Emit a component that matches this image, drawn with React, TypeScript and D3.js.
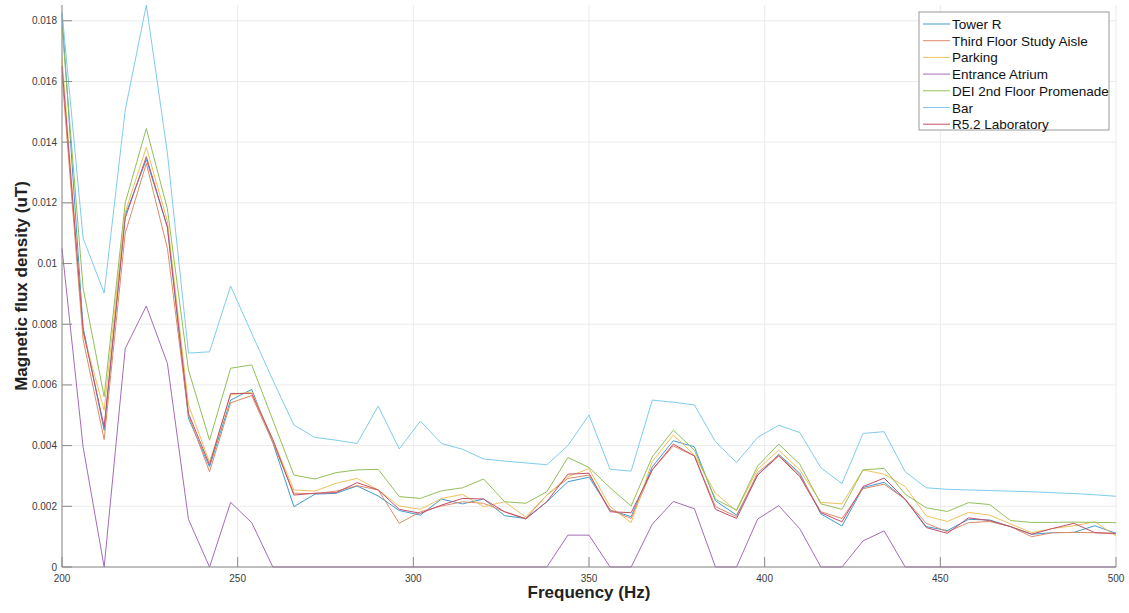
import React from "react";
import * as d3 from "d3";

const frequencies = [
  200, 206, 212, 218, 224, 230, 236, 242, 248, 254, 260, 266, 272, 278, 284, 290, 296,
  302, 308, 314, 320, 326, 332, 338, 344, 350, 356, 362, 368, 374, 380, 386, 392, 398,
  404, 410, 416, 422, 428, 434, 440, 446, 452, 458, 464, 470, 476, 482, 488, 494, 500,
];

const towerR = [
  0.0182, 0.0079, 0.0045, 0.0116, 0.01343, 0.0112, 0.0049, 0.0033, 0.0055, 0.00585,
  0.0041, 0.00199, 0.0024, 0.00243, 0.00267, 0.00234, 0.00186, 0.00171, 0.00224, 0.00208,
  0.00224, 0.00169, 0.0016, 0.00215, 0.00281, 0.00296, 0.00188, 0.00166, 0.0033, 0.00416,
  0.00396, 0.00218, 0.00171, 0.00303, 0.00371, 0.00309, 0.00175, 0.00135, 0.00262, 0.00279,
  0.00223, 0.00133, 0.0012, 0.00157, 0.00155, 0.00133, 0.00108, 0.00113, 0.00114, 0.00136,
  0.00111,
];

const thirdFloor = [
  0.0162, 0.0075, 0.0042, 0.011, 0.0133, 0.0105, 0.005, 0.00314, 0.00541, 0.00565,
  0.0041, 0.00243, 0.00242, 0.0025, 0.00268, 0.00254, 0.00144, 0.00182, 0.00201, 0.00215,
  0.0021, 0.00182, 0.0016, 0.00237, 0.00292, 0.00303, 0.00188, 0.0016, 0.0032, 0.00399,
  0.00366, 0.00199, 0.00166, 0.00311, 0.00368, 0.00303, 0.00182, 0.0016, 0.00258, 0.00273,
  0.00223, 0.00144, 0.00116, 0.00146, 0.0015, 0.00133, 0.001, 0.00113, 0.00114, 0.00113,
  0.00109,
];

const parking = [
  0.0168, 0.0077, 0.00517, 0.0117, 0.01383, 0.0114, 0.00534, 0.00345, 0.00567, 0.00577,
  0.0042, 0.00254, 0.0025, 0.00276, 0.00292, 0.00254, 0.00201, 0.0019, 0.00226, 0.00239,
  0.00199, 0.00215, 0.00165, 0.00237, 0.00298, 0.00324, 0.00199, 0.00146, 0.00347, 0.00435,
  0.00369, 0.00243, 0.00185, 0.00322, 0.00385, 0.0032, 0.00213, 0.00208, 0.0032, 0.00306,
  0.00265, 0.00168, 0.0015, 0.0018, 0.00171, 0.00142, 0.00113, 0.00127, 0.00136, 0.00149,
  0.00102,
];

const entranceAtrium = [
  0.0105, 0.00396, 0, 0.0072, 0.0086, 0.00671, 0.00157, 0, 0.00213, 0.00146,
  0, 0, 0, 0, 0, 0, 0, 0, 0, 0,
  0, 0, 0, 0, 0.00105, 0.00105, 0, 0, 0.00141, 0.00216,
  0.00192, 0, 0, 0.00158, 0.00202, 0.00126, 0, 0, 0.00086, 0.00119,
  0, 0, 0, 0, 0, 0, 0, 0, 0, 0,
  0,
];

const deiPromenade = [
  0.0178, 0.0092, 0.00561, 0.012, 0.01445, 0.0118, 0.00649, 0.00418, 0.00655, 0.00666,
  0.00484, 0.00303, 0.0029, 0.00311, 0.0032, 0.00322, 0.00232, 0.00226, 0.00251, 0.00261,
  0.0029, 0.00215, 0.0021, 0.00248, 0.00361, 0.00328, 0.00261, 0.00201, 0.00363, 0.00451,
  0.00385, 0.00223, 0.00188, 0.00333, 0.00405, 0.00339, 0.00208, 0.0019, 0.0032, 0.00325,
  0.0024, 0.00195, 0.00183, 0.00212, 0.00206, 0.00153, 0.00147, 0.00147, 0.00148, 0.00147,
  0.00146,
];

const bar = [
  0.0183, 0.01084, 0.00903, 0.01506, 0.01852, 0.01364, 0.00705, 0.00709, 0.00926, 0.0077,
  0.00616, 0.00468, 0.00427, 0.00418, 0.00407, 0.0053, 0.00389, 0.00481, 0.00407, 0.00388,
  0.00356, 0.00349, 0.00343, 0.00337, 0.004, 0.00501, 0.00322, 0.00316, 0.0055, 0.00543,
  0.00534, 0.00413, 0.00344, 0.00427, 0.00467, 0.00443, 0.00327, 0.00275, 0.0044, 0.00446,
  0.00314, 0.00261, 0.00256, 0.00254, 0.00252, 0.0025, 0.00248, 0.00245, 0.00242, 0.00238,
  0.00233,
];

const r52Laboratory = [
  0.0165, 0.0078, 0.00462, 0.0115, 0.01352, 0.0112, 0.00506, 0.00337, 0.00572, 0.00572,
  0.0042, 0.00237, 0.00243, 0.00245, 0.00278, 0.00254, 0.0019, 0.00177, 0.00204, 0.00226,
  0.00224, 0.00182, 0.00158, 0.00215, 0.00306, 0.00309, 0.00182, 0.00179, 0.0032, 0.00405,
  0.00366, 0.0019, 0.0016, 0.00303, 0.00366, 0.00298, 0.00179, 0.00149, 0.00265, 0.00293,
  0.00223, 0.0013, 0.00111, 0.00162, 0.00153, 0.00133, 0.00108, 0.00127, 0.00144, 0.00113,
  0.00111,
];

const seriesNames = [
  "Tower R",
  "Third Floor Study Aisle",
  "Parking",
  "Entrance Atrium",
  "DEI 2nd Floor Promenade",
  "Bar",
  "R5.2 Laboratory",
];
const seriesValues = [towerR, thirdFloor, parking, entranceAtrium, deiPromenade, bar, r52Laboratory];
const seriesColors = ["#3f9bd0", "#e08a68", "#efc25a", "#a46bb8", "#93bf5a", "#80cbed", "#c2506b"];

const xTicks = [200, 250, 300, 350, 400, 450, 500];
const yTicks = [0, 0.002, 0.004, 0.006, 0.008, 0.01, 0.012, 0.014, 0.016, 0.018];

const W = 1129;
const H = 613;
const plot = { left: 62, right: 1116, top: 5, bottom: 567 };
const FONT = "'Liberation Sans', Arial, Helvetica, sans-serif";

export default function App() {
  const x = d3.scaleLinear().domain([200, 500]).range([plot.left, plot.right]);
  const y = d3.scaleLinear().domain([0, 0.01852]).range([plot.bottom, plot.top]);
  const line = d3
    .line<number>()
    .x((_, i) => x(frequencies[i]))
    .y((d) => y(d));
  const yFmt = d3.format("~g");

  const legend = { x: 919, y: 12, w: 190, h: 118, row: 16.7 };

  return (
    <svg
      width={W}
      height={H}
      viewBox={`0 0 ${W} ${H}`}
      style={{ position: "absolute", left: 0, top: 0, background: "#fff" }}
      fontFamily={FONT}
    >
      <rect x={0} y={0} width={W} height={H} fill="#fff" />
      {/* grid */}
      <g stroke="#ebebeb" strokeWidth={1}>
        {xTicks.map((t) => (
          <line key={`gx${t}`} x1={x(t)} x2={x(t)} y1={plot.top} y2={plot.bottom} />
        ))}
        {yTicks.map((t) => (
          <line key={`gy${t}`} x1={plot.left} x2={plot.right} y1={y(t)} y2={y(t)} />
        ))}
      </g>

      {/* series */}
      <g fill="none" strokeWidth={1} strokeLinejoin="round">
        {seriesValues.map((vals, k) => (
          <path key={seriesNames[k]} d={line(vals) ?? ""} stroke={seriesColors[k]} />
        ))}
      </g>

      {/* axes */}
      <g stroke="#8a8a8a" strokeWidth={1}>
        <line x1={plot.left} x2={plot.left} y1={plot.top} y2={plot.bottom} />
        <line x1={plot.left} x2={plot.right} y1={plot.bottom} y2={plot.bottom} />
        {xTicks.map((t) => (
          <line key={`tx${t}`} x1={x(t)} x2={x(t)} y1={plot.bottom} y2={plot.bottom - 10} />
        ))}
        {yTicks.map((t) => (
          <line key={`ty${t}`} x1={plot.left} x2={plot.left + 10} y1={y(t)} y2={y(t)} />
        ))}
      </g>

      <g fill="#3a3a3a" fontSize={10}>
        {xTicks.map((t) => (
          <text key={`lx${t}`} x={x(t)} y={582} textAnchor="middle">
            {t}
          </text>
        ))}
        {yTicks.map((t) => (
          <text key={`ly${t}`} x={plot.left - 5} y={y(t) + 3.5} textAnchor="end">
            {yFmt(t)}
          </text>
        ))}
      </g>

      <text
        x={(plot.left + plot.right) / 2}
        y={598}
        textAnchor="middle"
        fontSize={17}
        fontWeight="bold"
        fill="#222"
      >
        Frequency (Hz)
      </text>
      <text
        transform={`translate(27,${(plot.top + plot.bottom) / 2}) rotate(-90)`}
        textAnchor="middle"
        fontSize={17}
        fontWeight="bold"
        fill="#222"
      >
        Magnetic flux density (uT)
      </text>

      {/* legend */}
      <g>
        <rect
          x={legend.x}
          y={legend.y}
          width={legend.w}
          height={legend.h}
          fill="#fff"
          stroke="#9a9a9a"
          strokeWidth={1}
        />
        {seriesNames.map((name, k) => {
          const cy = 24 + k * legend.row;
          return (
            <g key={`lg${name}`}>
              <line x1={923} x2={950} y1={cy} y2={cy} stroke={seriesColors[k]} strokeWidth={1} />
              <text x={952} y={cy + 5} fontSize={13.5} fill="#111">
                {name}
              </text>
            </g>
          );
        })}
      </g>
    </svg>
  );
}
